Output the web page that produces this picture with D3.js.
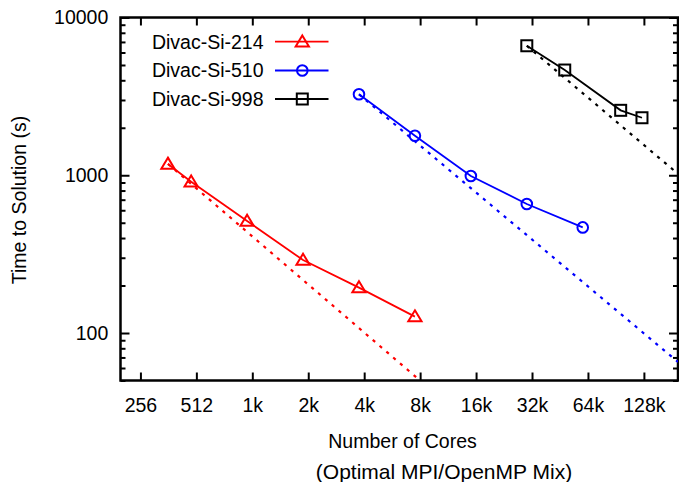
<!DOCTYPE html>
<html>
<head>
<meta charset="utf-8">
<script src="https://cdn.jsdelivr.net/npm/d3@7/dist/d3.min.js"></script>
<style>
  html, body { margin: 0; padding: 0; background: #fff; }
  svg { display: block; font-family: "Liberation Sans", Arial, sans-serif; }
</style>
</head>
<body>
<svg id="chart" width="679" height="482"></svg>
<script>
// Measured runs: cores used vs. time to solution (seconds)
const cores214 = [360, 480, 960, 1920, 3840, 7680];
const time214  = [1180, 910, 513, 290, 194, 127];
const cores510 = [3840, 7680, 15360, 30720, 61440];
const time510  = [3260, 1780, 990, 657, 467];
const cores998 = [30720, 49152, 98304, 128000];
const time998  = [6620, 4645, 2580, 2315];

// Ideal-scaling reference lines (start and end points)
const idealCores214 = [360, 8180];
const idealTime214  = [1180, 50];
const idealCores510 = [3840, 200000];
const idealTime510  = [3260, 65.5];
const idealCores998 = [30720, 200000];
const idealTime998  = [6620, 1020];

const seriesNames = ["Divac-Si-214", "Divac-Si-510", "Divac-Si-998"];
const seriesColors = ["#ff0000", "#0000ff", "#000000"];
const seriesMarkers = ["triangle", "circle", "square"];

const xTickValues = [256, 512, 1024, 2048, 4096, 8192, 16384, 32768, 65536, 131072];
const xTickLabels = ["256", "512", "1k", "2k", "4k", "8k", "16k", "32k", "64k", "128k"];
const yTickValues = [100, 1000, 10000];
const yTickLabels = ["100", "1000", "10000"];

const xTitle = "Number of Cores";
const xSubtitle = "(Optimal MPI/OpenMP Mix)";
const yTitle = "Time to Solution (s)";

const svg = d3.select("#chart");
const L = 120.5, R = 678, T = 17.5, B = 380.5;
const fontSize = 19.5;

const x = d3.scaleLog().base(2).domain([200, 200000]).range([L, R]);
const y = d3.scaleLog().domain([50, 10000]).range([B, T]);

const minorY = [];
[10, 100, 1000].forEach(d => { for (let k = 2; k <= 9; k++) { const v = d * k; if (v >= 50 && v <= 10000) minorY.push(v); } });

function styleAxis(g) {
  g.select(".domain").remove();
  g.selectAll(".tick line").attr("stroke", "#000").attr("stroke-width", 2);
  g.selectAll(".tick text").attr("fill", "#000").style("font-size", fontSize + "px")
    .style("font-family", '"Liberation Sans", Arial, sans-serif');
}

// bottom axis with labels
svg.append("g").attr("transform", `translate(0,${B})`)
  .call(d3.axisBottom(x).tickValues(xTickValues)
    .tickFormat((d, i) => xTickLabels[i]).tickSizeInner(-8).tickSizeOuter(0).tickPadding(17.4))
  .call(styleAxis);
// top axis mirror ticks
svg.append("g").attr("transform", `translate(0,${T})`)
  .call(d3.axisTop(x).tickValues(xTickValues).tickFormat("").tickSizeInner(-8).tickSizeOuter(0))
  .call(styleAxis);
// left axis
svg.append("g").attr("transform", `translate(${L},0)`)
  .call(d3.axisLeft(y).tickValues(yTickValues)
    .tickFormat((d, i) => yTickLabels[i]).tickSizeInner(-9).tickSizeOuter(0).tickPadding(12.2))
  .call(styleAxis);
svg.append("g").attr("transform", `translate(${L},0)`)
  .call(d3.axisLeft(y).tickValues(minorY).tickFormat("").tickSizeInner(-5).tickSizeOuter(0))
  .call(styleAxis);
// right axis mirror ticks
svg.append("g").attr("transform", `translate(${R},0)`)
  .call(d3.axisRight(y).tickValues(yTickValues).tickFormat("").tickSizeInner(-9).tickSizeOuter(0))
  .call(styleAxis);
svg.append("g").attr("transform", `translate(${R},0)`)
  .call(d3.axisRight(y).tickValues(minorY).tickFormat("").tickSizeInner(-5).tickSizeOuter(0))
  .call(styleAxis);

// frame
svg.append("rect").attr("x", L).attr("y", T).attr("width", R - L).attr("height", B - T)
  .attr("fill", "none").attr("stroke", "#000").attr("stroke-width", 2.5);

// clip to plot area
svg.append("defs").append("clipPath").attr("id", "plotClip")
  .append("rect").attr("x", L).attr("y", T).attr("width", R - L).attr("height", B - T);
const plot = svg.append("g").attr("clip-path", "url(#plotClip)");

const series = [
  { cores: cores214, time: time214, ic: idealCores214, it: idealTime214 },
  { cores: cores510, time: time510, ic: idealCores510, it: idealTime510 },
  { cores: cores998, time: time998, ic: idealCores998, it: idealTime998 }
];

const line = d3.line().x(d => x(d[0])).y(d => y(d[1]));

function drawMarker(g, type, cx, cy, color) {
  if (type === "triangle") {
    const s = 6.3;
    g.append("path")
      .attr("d", `M${cx},${cy - s}L${cx + s * 1.05},${cy + s * 0.75}L${cx - s * 1.05},${cy + s * 0.75}Z`)
      .attr("fill", "none").attr("stroke", color).attr("stroke-width", 2);
  } else if (type === "circle") {
    g.append("circle").attr("cx", cx).attr("cy", cy).attr("r", 5.3)
      .attr("fill", "none").attr("stroke", color).attr("stroke-width", 2);
  } else {
    g.append("rect").attr("x", cx - 5.5).attr("y", cy - 5.5).attr("width", 11).attr("height", 11)
      .attr("fill", "none").attr("stroke", color).attr("stroke-width", 2);
  }
}

series.forEach((s, i) => {
  const color = seriesColors[i];
  // ideal scaling, dotted
  plot.append("path").datum(s.ic.map((c, j) => [c, s.it[j]]))
    .attr("d", line).attr("fill", "none").attr("stroke", color)
    .attr("stroke-width", 2.2).attr("stroke-dasharray", "3.2,5.8");
  // measured
  const pts = s.cores.map((c, j) => [c, s.time[j]]);
  plot.append("path").datum(pts).attr("d", line).attr("fill", "none")
    .attr("stroke", color).attr("stroke-width", 1.8);
  pts.forEach(p => drawMarker(plot, seriesMarkers[i], x(p[0]), y(p[1]), color));
});

// legend
const legendY = [41.7, 70.5, 99];
seriesNames.forEach((name, i) => {
  const ly = legendY[i];
  svg.append("text").attr("x", 263.5).attr("y", ly).attr("dy", "0.35em")
    .attr("text-anchor", "end").style("font-size", fontSize + "px").attr("fill", "#000").text(name);
  svg.append("line").attr("x1", 275).attr("x2", 328.5).attr("y1", ly).attr("y2", ly)
    .attr("stroke", seriesColors[i]).attr("stroke-width", 1.8);
  drawMarker(svg, seriesMarkers[i], 302.3, ly, seriesColors[i]);
});

// titles
svg.append("text").attr("x", 402.5).attr("y", 447.5).attr("text-anchor", "middle")
  .style("font-size", fontSize + "px").attr("fill", "#000").text(xTitle);
svg.append("text").attr("x", 444).attr("y", 479).attr("text-anchor", "middle")
  .style("font-size", "21px").attr("fill", "#000").text(xSubtitle);
svg.append("text").attr("transform", "translate(26,200) rotate(-90)").attr("text-anchor", "middle")
  .style("font-size", fontSize + "px").attr("fill", "#000").text(yTitle);
</script>
</body>
</html>
